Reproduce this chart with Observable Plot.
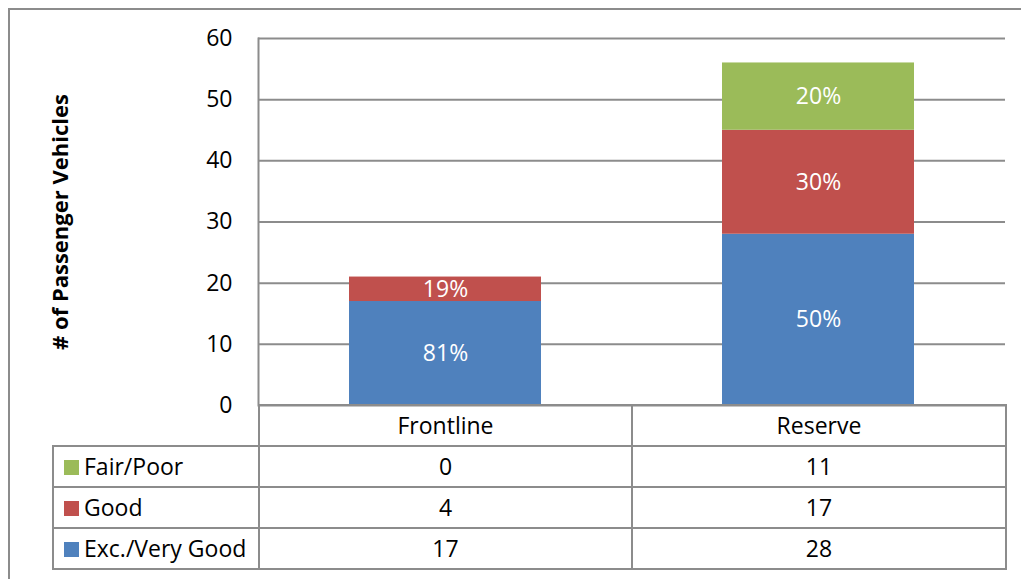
<!DOCTYPE html>
<html>
<head>
<meta charset="utf-8">
<script src="https://cdn.jsdelivr.net/npm/d3@7"></script>
<script src="https://cdn.jsdelivr.net/npm/@observablehq/plot@0.6"></script>
<style>
  html, body { margin: 0; padding: 0; background: #fff; }
  body { width: 1021px; height: 579px; overflow: hidden; position: relative; font-family: "Open Sans", sans-serif; }
  #frame { position: absolute; left: 8px; top: 8px; width: 1100px; height: 700px; border: 2px solid #8c8c8c; box-sizing: border-box; }
  #chart { position: absolute; left: 0; top: 0; }
  #tbl { position: absolute; left: 52px; top: 404px; border-collapse: collapse; table-layout: fixed; width: 953px; font-size: 23px; color: #000; }
  #tbl td { border: 2px solid #8c8c8c; padding: 0; text-align: center; vertical-align: middle; line-height: 1; overflow: visible; }
  #tbl td.lab { text-align: left; padding-left: 10px; white-space: nowrap; }
  #tbl td.blank { border-top: none; border-left: none; }
  .sw { display: inline-block; width: 15px; height: 15px; margin-right: 5px; vertical-align: middle; position: relative; top: -1px; }
</style>
</head>
<body>
<div id="frame"></div>
<div id="chart"></div>
<table id="tbl"></table>
<script>
const categories = ["Frontline", "Reserve"];
const series = ["Exc./Very Good", "Good", "Fair/Poor"];
const excVeryGood = [17, 28];
const good = [4, 17];
const fairPoor = [0, 11];
const colors = ["#4F81BD", "#C0504D", "#9BBB59"];
const yTicks = [0, 10, 20, 30, 40, 50, 60];
const yTitle = "# of Passenger Vehicles";

const seriesValues = [excVeryGood, good, fairPoor];
const totals = categories.map((c, i) => seriesValues.reduce((s, v) => s + v[i], 0));
const data = [];
series.forEach((s, si) => {
  categories.forEach((c, ci) => {
    const v = seriesValues[si][ci];
    data.push({cat: c, series: s, value: v, pct: Math.round(100 * v / totals[ci]) + "%"});
  });
});

const plot = Plot.plot({
  width: 1021,
  height: 420,
  marginLeft: 258,
  marginRight: 16,
  marginTop: 38,
  marginBottom: 15,
  style: {fontFamily: "Open Sans, sans-serif", fontSize: "23px", color: "#000", background: "transparent", overflow: "visible"},
  x: {domain: categories, paddingInner: 0.486, paddingOuter: 0.243, axis: null},
  y: {domain: [0, 60]},
  color: {domain: series, range: colors},
  marks: [
    Plot.gridY(yTicks, {stroke: "#8c8c8c", strokeOpacity: 1, strokeWidth: 2}),
    Plot.frame({anchor: "left", stroke: "#8c8c8c", strokeWidth: 2}),
    Plot.axisY(yTicks, {tickSize: 0, tickPadding: 26, label: null, fontSize: 23, fill: "#000"}),
    Plot.barY(data, {x: "cat", y: "value", fill: "series"}),
    Plot.text(data, Plot.stackY({x: "cat", y: "value", z: "series", text: d => d.value > 0 ? d.pct : "", fill: "white", fontSize: 23})),
    Plot.text([yTitle], {frameAnchor: "left", textAnchor: "middle", dx: -198, rotate: -90, fontWeight: "bold", fontSize: 22, fill: "#000"})
  ]
});
document.getElementById("chart").appendChild(plot);

// data table below the chart
const tbl = document.getElementById("tbl");
const colW = [206, 373, 374];
const cg = document.createElement("colgroup");
colW.forEach(w => { const col = document.createElement("col"); col.style.width = w + "px"; cg.appendChild(col); });
tbl.appendChild(cg);
const header = document.createElement("tr");
header.style.height = "41px";
const blank = document.createElement("td");
blank.className = "blank";
header.appendChild(blank);
categories.forEach((c, i) => {
  const td = document.createElement("td");
  td.textContent = c;
  header.appendChild(td);
});
tbl.appendChild(header);
[2, 1, 0].forEach(si => {
  const tr = document.createElement("tr");
  tr.style.height = "41px";
  const lab = document.createElement("td");
  lab.className = "lab";
  const sw = document.createElement("span");
  sw.className = "sw";
  sw.style.background = colors[si];
  lab.appendChild(sw);
  lab.appendChild(document.createTextNode(series[si]));
  tr.appendChild(lab);
  categories.forEach((c, ci) => {
    const td = document.createElement("td");
    td.textContent = seriesValues[si][ci];
    tr.appendChild(td);
  });
  tbl.appendChild(tr);
});
</script>
</body>
</html>
